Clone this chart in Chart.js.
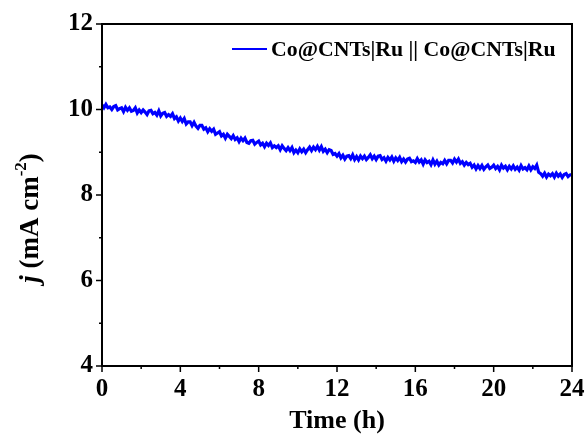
<!DOCTYPE html>
<html>
<head>
<meta charset="utf-8">
<script src="https://cdn.jsdelivr.net/npm/chart.js@4.4.1/dist/chart.umd.min.js"></script>
<style>
  html, body { margin: 0; padding: 0; background: #fff; }
  canvas { display: block; }
</style>
</head>
<body>
<canvas id="chart" width="587" height="437"></canvas>
<script>
// --- Data ---
const seriesLabel = 'Co@CNTs|Ru || Co@CNTs|Ru';
const timeStep = 0.1; // hours between samples
// one row per hour, 0.1 h apart
const currentDensity = [
  10.11, 10.04, 10.12, 10.04, 10.06, 10.00, 10.07, 10.09, 9.99, 10.02,
  10.04, 9.95, 10.05, 9.98, 10.04, 9.96, 9.98, 10.04, 9.92, 9.99,
  9.93, 9.99, 9.94, 9.88, 9.97, 9.98, 9.90, 9.93, 9.87, 9.97,
  9.85, 9.91, 9.93, 9.84, 9.88, 9.84, 9.90, 9.79, 9.83, 9.73,
  9.80, 9.72, 9.79, 9.66, 9.71, 9.71, 9.62, 9.70, 9.61, 9.56,
  9.63, 9.63, 9.54, 9.57, 9.48, 9.55, 9.49, 9.54, 9.42, 9.45,
  9.48, 9.38, 9.42, 9.33, 9.42, 9.37, 9.32, 9.39, 9.30, 9.34,
  9.25, 9.33, 9.27, 9.33, 9.23, 9.21, 9.27, 9.28, 9.19, 9.23,
  9.26, 9.17, 9.21, 9.13, 9.21, 9.16, 9.22, 9.11, 9.15, 9.11,
  9.15, 9.06, 9.15, 9.09, 9.04, 9.11, 9.04, 9.11, 8.99, 9.05,
  8.99, 9.08, 9.01, 9.07, 8.99, 9.06, 9.12, 9.04, 9.12, 9.06,
  9.14, 9.05, 9.13, 9.02, 9.07, 8.99, 9.06, 9.04, 8.95, 8.97,
  8.91, 8.97, 8.87, 8.93, 8.84, 8.91, 8.92, 8.85, 8.94, 8.83,
  8.90, 8.82, 8.91, 8.85, 8.91, 8.83, 8.88, 8.94, 8.85, 8.91,
  8.83, 8.91, 8.92, 8.83, 8.87, 8.79, 8.88, 8.82, 8.89, 8.79,
  8.87, 8.81, 8.88, 8.78, 8.84, 8.77, 8.84, 8.86, 8.78, 8.80,
  8.76, 8.85, 8.77, 8.82, 8.72, 8.82, 8.76, 8.79, 8.71, 8.82,
  8.72, 8.79, 8.70, 8.76, 8.73, 8.81, 8.73, 8.81, 8.81, 8.75,
  8.84, 8.77, 8.84, 8.74, 8.78, 8.70, 8.76, 8.71, 8.74, 8.65,
  8.70, 8.61, 8.69, 8.62, 8.69, 8.60, 8.66, 8.70, 8.62, 8.65,
  8.70, 8.62, 8.67, 8.59, 8.70, 8.63, 8.67, 8.59, 8.67, 8.61,
  8.68, 8.60, 8.65, 8.58, 8.69, 8.61, 8.64, 8.59, 8.68, 8.59,
  8.66, 8.62, 8.70, 8.53, 8.50, 8.44, 8.51, 8.42, 8.49, 8.45,
  8.50, 8.42, 8.51, 8.44, 8.49, 8.41, 8.48, 8.50, 8.43, 8.47,
  8.48
];
const xTicks = [0, 4, 8, 12, 16, 20, 24];
const yTicks = [4, 6, 8, 10, 12];
const xMinorTicks = [2, 6, 10, 14, 18, 22];
const yMinorTicks = [5, 7, 9, 11];

const FONT = '"Liberation Serif", "Times New Roman", serif';
const lineColor = '#0000ff';

const points = currentDensity.map((v, i) => ({ x: +(i * timeStep).toFixed(1), y: v }));

// frame, tick marks, legend and y title
const decorPlugin = {
  id: 'decor',
  afterDraw(chart) {
    const { ctx, chartArea: a, scales: { x, y } } = chart;
    ctx.save();
    ctx.strokeStyle = '#000';
    ctx.lineWidth = 2;
    ctx.strokeRect(a.left, a.top, a.right - a.left, a.bottom - a.top);

    ctx.lineWidth = 1.5;
    ctx.beginPath();
    xTicks.forEach(t => { const px = x.getPixelForValue(t); ctx.moveTo(px, a.bottom); ctx.lineTo(px, a.bottom + 6); });
    xMinorTicks.forEach(t => { const px = x.getPixelForValue(t); ctx.moveTo(px, a.bottom); ctx.lineTo(px, a.bottom + 3); });
    yTicks.forEach(t => { const py = y.getPixelForValue(t); ctx.moveTo(a.left, py); ctx.lineTo(a.left - 6, py); });
    yMinorTicks.forEach(t => { const py = y.getPixelForValue(t); ctx.moveTo(a.left, py); ctx.lineTo(a.left - 3, py); });
    ctx.stroke();

    // legend inside plot, top right
    ctx.strokeStyle = lineColor;
    ctx.lineWidth = 2;
    ctx.beginPath();
    ctx.moveTo(232, 49);
    ctx.lineTo(267, 49);
    ctx.stroke();
    ctx.fillStyle = '#000';
    ctx.font = 'bold 21.8px ' + FONT;
    ctx.textBaseline = 'middle';
    ctx.textAlign = 'left';
    ctx.fillText(seriesLabel, 271, 50);

    // y title: j (mA cm^-2)
    ctx.translate(38, 218);
    ctx.rotate(-Math.PI / 2);
    ctx.textBaseline = 'alphabetic';
    const big = 'bold 27px ' + FONT;
    const bigItalic = 'italic bold 27px ' + FONT;
    const small = 'bold 17px ' + FONT;
    const parts = [
      { t: 'j', f: bigItalic, dy: 0 },
      { t: ' (mA cm', f: big, dy: 0 },
      { t: '-2', f: small, dy: -12 },
      { t: ')', f: big, dy: 0 }
    ];
    let total = 0;
    parts.forEach(p => { ctx.font = p.f; total += ctx.measureText(p.t).width; });
    let cx = -total / 2;
    parts.forEach(p => {
      ctx.font = p.f;
      ctx.fillText(p.t, cx, p.dy);
      cx += ctx.measureText(p.t).width;
    });
    ctx.restore();
  }
};

new Chart(document.getElementById('chart'), {
  type: 'line',
  data: {
    datasets: [{
      label: seriesLabel,
      data: points,
      borderColor: lineColor,
      borderWidth: 3.2,
      pointRadius: 0,
      tension: 0,
      fill: false
    }]
  },
  options: {
    responsive: false,
    animation: false,
    layout: { padding: { top: 24, right: 15, left: 0, bottom: 0 } },
    plugins: {
      legend: { display: false },
      tooltip: { enabled: false }
    },
    scales: {
      x: {
        type: 'linear',
        min: 0,
        max: 24,
        afterBuildTicks: s => { s.ticks = xTicks.map(v => ({ value: v })); },
        afterFit: s => { s.height = 71; s.paddingLeft = 0; s.paddingRight = 0; },
        grid: { display: false, drawTicks: false },
        border: { display: true, color: '#000', width: 2 },
        ticks: {
          color: '#000',
          padding: 9,
          maxRotation: 0,
          font: { family: FONT, size: 25, weight: 'bold' }
        },
        title: {
          display: true,
          text: 'Time (h)',
          color: '#000',
          padding: { top: 3, bottom: 0 },
          font: { family: FONT, size: 26, weight: 'bold' }
        }
      },
      y: {
        type: 'linear',
        min: 4,
        max: 12,
        afterBuildTicks: s => { s.ticks = yTicks.map(v => ({ value: v })); },
        afterFit: s => { s.width = 102; s.paddingTop = 0; s.paddingBottom = 0; },
        grid: { display: false, drawTicks: false },
        border: { display: true, color: '#000', width: 2 },
        ticks: {
          color: '#000',
          padding: 9,
          font: { family: FONT, size: 25, weight: 'bold' }
        }
      }
    }
  },
  plugins: [decorPlugin]
});
</script>
</body>
</html>
